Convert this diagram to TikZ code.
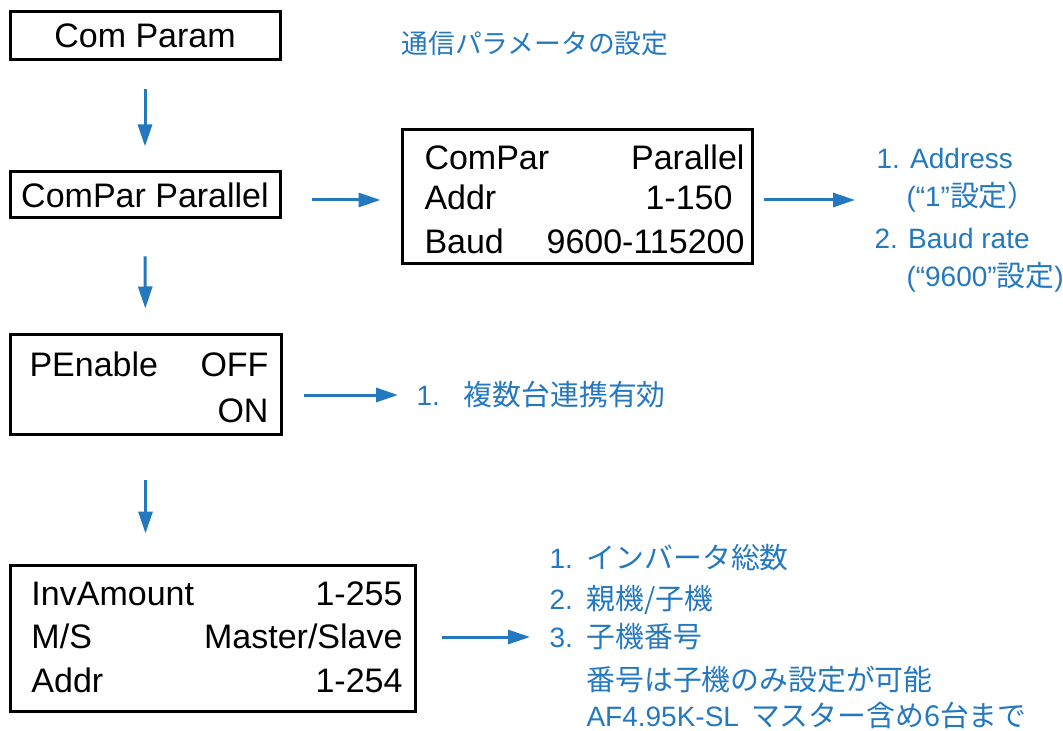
\documentclass[tikz,border=0pt]{standalone}
\usepackage{fontspec}
\setmainfont{Liberation Sans}
\newfontfamily\jp[Scale=1.03]{Noto Sans CJK JP}
\usetikzlibrary{arrows.meta}
\definecolor{noteblue}{RGB}{36,120,192}
\tikzset{
  every picture/.style={line width=1.5pt},
  panel/.style={draw, line width=1.5pt, inner sep=0pt},
  lcd/.style={inner sep=0pt, font=\fontsize{17}{20}\selectfont},
  note/.style={inner sep=0pt, text=noteblue, anchor=west, font=\fontsize{14}{17}\selectfont},
  flow/.style={noteblue, line width=1.5pt, -{Triangle[length=11pt,width=7pt]}},
}

\begin{document}
\begin{tikzpicture}[x=0.5pt, y=-0.5pt]
        \useasboundingbox (0,0) rectangle (1063,731);
        % panels
        \node[panel, lcd, minimum width=135pt, minimum height=24pt] (cp) at (145,36) {Com Param};
        \node[panel, lcd, minimum width=135pt, minimum height=23pt] (par) at (145,195) {ComPar Parallel};
        \node[panel, minimum width=135.5pt, minimum height=49.5pt] (pen) at (145.5,384.5) {};
        \node[panel, minimum width=175pt, minimum height=67pt] (sub) at (577,197) {};
        \node[panel, minimum width=202.5pt, minimum height=73pt] (inv) at (212.5,638) {};
        % panel rows
        \node[lcd, anchor=base west] (sub1l) at (423,170) {ComPar};
        \node[lcd, anchor=base east] (sub1r) at (746,170) {Parallel};
        \node[lcd, anchor=base west] (sub2l) at (423,210) {Addr};
        \node[lcd, anchor=base east] (sub2r) at (734,210) {1-150};
        \node[lcd, anchor=base west] (sub3l) at (423,254) {Baud};
        \node[lcd, anchor=base east] (sub3r) at (746,254) {9600-115200};
        \node[lcd, anchor=base west] (pen1l) at (28,377) {PEnable};
        \node[lcd, anchor=base east] (pen1r) at (270,377) {OFF};
        \node[lcd, anchor=base east] (pen2r) at (270,422) {ON};
        \node[lcd, anchor=base west] (inv1l) at (30,605) {InvAmount};
        \node[lcd, anchor=base east] (inv1r) at (404,605) {1-255};
        \node[lcd, anchor=base west] (inv2l) at (30,648) {M/S};
        \node[lcd, anchor=base east] (inv2r) at (404,648) {Master/Slave};
        \node[lcd, anchor=base west] (inv3l) at (30,692) {Addr};
        \node[lcd, anchor=base east] (inv3r) at (404,692) {1-254};
        % notes
        \node[note, font=\fontsize{13}{16}\selectfont] (title) at (400,43) {\jp 通信パラメータの設定};
        \node[note] (adr) at (875,158) {1. Address};
        \node[note] (adr1) at (905,197) {(“1”{\jp 設定）}};
        \node[note] (baud) at (873,238) {2. Baud rate};
        \node[note] (baud1) at (905,277) {(“9600”{\jp 設定})};
        \node[note] (multi) at (415,395) {1.\hspace{12pt}{\jp 複数台連携有効}};
        \node[note] (n1) at (548,558) {1.\hspace{7pt}{\jp インバータ総数}};
        \node[note] (n2) at (548,600) {2.\hspace{7pt}{\jp 親機/子機}};
        \node[note] (n3) at (548,637) {3.\hspace{7pt}{\jp 子機番号}};
        \node[note] (n4) at (585,680) {\jp 番号は子機のみ設定が可能};
        \node[note] (n5) at (585,715) {AF4.95K-SL\hspace{6pt}{\jp マスター含め6台まで}};
        \coordinate (adrin) at (855,200);
        % arrows
        \draw[flow, shorten <=14pt, shorten >=12pt] (cp) -- (par);
        \draw[flow, shorten <=18.5pt, shorten >=12.5pt] (par) -- (pen);
        \draw[flow, shorten <=22pt, shorten >=15pt] (pen) -- (inv.north -| pen.south);
        \draw[flow, shorten <=15pt, shorten >=10pt] (par.east |- adrin) -- (sub.west |- adrin);
        \draw[flow, shorten <=5pt] (sub.east |- adrin) -- (adrin);
        \draw[flow, shorten <=10.5pt, shorten >=8.5pt] (pen.east |- multi.west) -- (multi.west);
        \draw[flow, shorten <=12.5pt, shorten >=9pt] (inv.east |- n3.west) -- (n3.west);
    \end{tikzpicture}
\end{document}
